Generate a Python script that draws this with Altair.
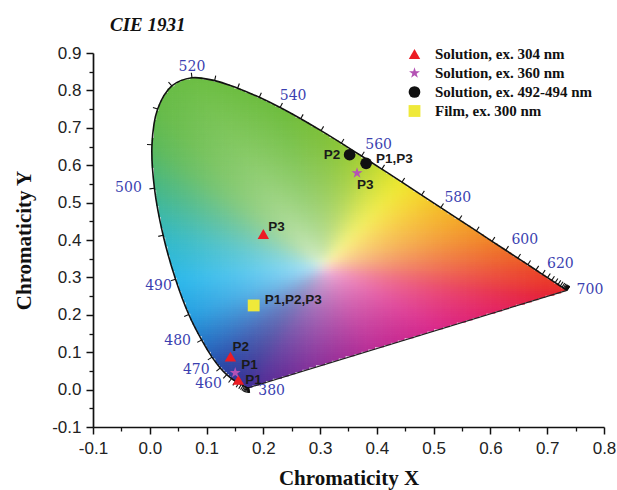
import numpy as np
import pandas as pd
import altair as alt

# ---------------- data ----------------
# CIE 1931 spectral locus, 5 nm steps
WL = list(range(380, 705, 5))
LOCUS_X = [0.1741, 0.1740, 0.1738, 0.1736, 0.1733, 0.1730, 0.1726, 0.1721, 0.1714, 0.1703,
           0.1689, 0.1669, 0.1644, 0.1611, 0.1566, 0.1510, 0.1440, 0.1355, 0.1241, 0.1096,
           0.0913, 0.0687, 0.0454, 0.0235, 0.0082, 0.0039, 0.0139, 0.0389, 0.0743, 0.1142,
           0.1547, 0.1929, 0.2296, 0.2658, 0.3016, 0.3373, 0.3731, 0.4087, 0.4441, 0.4788,
           0.5125, 0.5448, 0.5752, 0.6029, 0.6270, 0.6482, 0.6658, 0.6801, 0.6915, 0.7006,
           0.7079, 0.7140, 0.7190, 0.7230, 0.7260, 0.7283, 0.7300, 0.7311, 0.7320, 0.7327,
           0.7334, 0.7340, 0.7344, 0.7346, 0.7347]
LOCUS_Y = [0.0050, 0.0050, 0.0049, 0.0049, 0.0048, 0.0048, 0.0048, 0.0048, 0.0051, 0.0058,
           0.0069, 0.0086, 0.0109, 0.0138, 0.0177, 0.0227, 0.0297, 0.0399, 0.0578, 0.0868,
           0.1327, 0.2007, 0.2950, 0.4127, 0.5384, 0.6548, 0.7502, 0.8120, 0.8338, 0.8262,
           0.8059, 0.7816, 0.7543, 0.7243, 0.6923, 0.6589, 0.6245, 0.5896, 0.5547, 0.5202,
           0.4866, 0.4544, 0.4242, 0.3965, 0.3725, 0.3514, 0.3340, 0.3197, 0.3083, 0.2993,
           0.2920, 0.2859, 0.2809, 0.2770, 0.2740, 0.2717, 0.2700, 0.2689, 0.2680, 0.2673,
           0.2666, 0.2660, 0.2656, 0.2654, 0.2653]

# colours
EDGE_WL = [380, 450, 460, 470, 475, 480, 485, 490, 495, 500, 505, 510, 520, 540, 550, 555,
           560, 565, 570, 575, 580, 590, 600, 620, 700]
EDGE_RGB = [(70, 45, 150), (55, 50, 150), (48, 58, 155), (42, 70, 165), (40, 90, 180),
            (38, 120, 200), (40, 160, 225), (45, 185, 235), (52, 185, 195), (70, 183, 135),
            (92, 185, 90), (102, 187, 72), (108, 190, 68), (110, 189, 62), (125, 192, 58),
            (140, 198, 55), (165, 207, 52), (205, 222, 50), (238, 232, 48), (245, 212, 45),
            (245, 188, 42), (242, 148, 40), (238, 110, 40), (234, 62, 42), (230, 35, 42)]
PURPLE_F = [0.0, 0.2, 0.4, 0.6, 0.8, 1.0]          # from the 700 end to the 380 end
PURPLE_RGB = [(230, 35, 42), (228, 35, 95), (218, 40, 138), (190, 45, 150),
              (135, 50, 155), (70, 45, 150)]
WHITE_XY = (0.305, 0.33)

LABEL_WL = [380, 460, 470, 480, 490, 500, 520, 540, 560, 580, 600, 620, 700]
LABEL_DX = [23, -23, -24, -24, -17, -26, 0, 13, 17, 17, 19, 18, 23]
LABEL_DY = [3, 6, 2, 1, 7, 0, -11, -11, -11, -10, -10, -10, 0]

SERIES = ["Solution, ex. 304 nm", "Solution, ex. 360 nm",
          "Solution, ex. 492-494 nm", "Film, ex. 300 nm"]
S304_X = [0.156, 0.142, 0.200]
S304_Y = [0.026, 0.088, 0.416]
S304_LAB = ["P1", "P2", "P3"]
S360_X = [0.1505, 0.365]
S360_Y = [0.045, 0.579]
S360_LAB = ["P1", "P3"]
S492_X = [0.352, 0.381]
S492_Y = [0.628, 0.605]
S492_LAB = ["P2", "P1,P3"]
FILM_X = [0.183]
FILM_Y = [0.225]
FILM_LAB = ["P1,P2,P3"]

X_MAJOR = [-0.1, 0.0, 0.1, 0.2, 0.3, 0.4, 0.5, 0.6, 0.7, 0.8]
Y_MAJOR = [-0.1, 0.0, 0.1, 0.2, 0.3, 0.4, 0.5, 0.6, 0.7, 0.8, 0.9]
X_MINOR = [-0.05, 0.05, 0.15, 0.25, 0.35, 0.45, 0.55, 0.65, 0.75]
Y_MINOR = [-0.05, 0.05, 0.15, 0.25, 0.35, 0.45, 0.55, 0.65, 0.75, 0.85]

# ---------------- layout / style ----------------
W, H = 511, 374
XD, YD = [-0.1, 0.8], [-0.1, 0.9]
SX = W / (XD[1] - XD[0])
SY = H / (YD[1] - YD[0])

# label offsets (pixels) for the point labels, text left-aligned
PT_DX = {"304": [7, 2, 5], "360": [6, 0], "492": [-26, 10], "film": [11]}
PT_DY = {"304": [0, -10, -7], "360": [-8, 12], "492": [0, -4], "film": [-5]}


# ---------------- gamut fill ----------------
def catmull_rom_path(px, py, alpha=0.5, nseg=12):
    """Same curve that Vega draws for interpolate='catmull-rom' (used only for the fill mask)."""
    pts = np.stack([px, py], axis=1)
    n = len(pts)
    out, par = [], []
    for i in range(n - 1):
        p0 = pts[i - 1] if i > 0 else pts[i]
        p1, p2 = pts[i], pts[i + 1]
        p3 = pts[i + 2] if i + 2 < n else pts[i + 1]
        l01a = np.linalg.norm(p1 - p0) ** alpha
        l12a = np.linalg.norm(p2 - p1) ** alpha
        l23a = np.linalg.norm(p3 - p2) ** alpha
        c1, c2 = p1.copy(), p2.copy()
        if l01a > 1e-12:
            aa = 2 * l01a ** 2 + 3 * l01a * l12a + l12a ** 2
            nn = 3 * l01a * (l01a + l12a)
            c1 = (p1 * aa - p0 * l12a ** 2 + p2 * l01a ** 2) / nn
        if l23a > 1e-12:
            bb = 2 * l23a ** 2 + 3 * l23a * l12a + l12a ** 2
            mm = 3 * l23a * (l23a + l12a)
            c2 = (p2 * bb + p1 * l23a ** 2 - p3 * l12a ** 2) / mm
        for s in np.linspace(0, 1, nseg, endpoint=False):
            out.append((1 - s) ** 3 * p1 + 3 * (1 - s) ** 2 * s * c1 + 3 * (1 - s) * s ** 2 * c2
                       + s ** 3 * p2)
            par.append(i + s)
    out.append(pts[-1])
    par.append(n - 1)
    return np.array(out), np.array(par)


lx = np.array(LOCUS_X)
ly = np.array(LOCUS_Y)
dense, par = catmull_rom_path(lx * SX, ly * SY)
dwl = WL[0] + 5 * par
erg = np.array(EDGE_RGB, float)
loc_rgb = np.stack([np.interp(dwl, EDGE_WL, erg[:, k]) for k in range(3)], axis=1)
f = np.linspace(0, 1, 62)[1:-1]
px_ = (lx[-1] + (lx[0] - lx[-1]) * f) * SX
py_ = (ly[-1] + (ly[0] - ly[-1]) * f) * SY
prg = np.array(PURPLE_RGB, float)
p_rgb = np.stack([np.interp(f, PURPLE_F, prg[:, k]) for k in range(3)], axis=1)
bxp = np.concatenate([dense[:, 0], px_])
byp = np.concatenate([dense[:, 1], py_])
brgb = np.concatenate([loc_rgb, p_rgb])
wxp, wyp = WHITE_XY[0] * SX, WHITE_XY[1] * SY
b_ang = np.arctan2(byp - wyp, bxp - wxp)
b_rad = np.hypot(bxp - wxp, byp - wyp)

dxg, dyg = 0.004, 0.006
gx = np.arange(0.0, 0.74, dxg) + dxg / 2
gy = np.arange(0.0, 0.84, dyg) + dyg / 2
NGX, NGY = len(gx), len(gy)
GX, GY = np.meshgrid(gx, gy)
a = np.arctan2(GY * SY - wyp, GX * SX - wxp)
r = np.hypot(GX * SX - wxp, GY * SY - wyp)
TP = 2 * np.pi
R = np.interp(a, b_ang, b_rad, period=TP)
inside = r <= R - 0.9
t = np.clip(r / R, 0, 1) ** 0.4
edge = np.stack([np.interp(a, b_ang, brgb[:, k], period=TP) for k in range(3)], axis=-1)
col = 255 + (edge - 255) * t[..., None]
# soft blending, as in the picture
k = 3
padc = np.pad(col, ((k, k), (k, k), (0, 0)), mode="edge")
acc = np.zeros_like(col)
for i in range(2 * k + 1):
    for j in range(2 * k + 1):
        acc += padc[i:i + NGY, j:j + NGX]
col = acc / (2 * k + 1) ** 2
col = np.clip(np.round(col), 0, 255).astype(int)
hexs = ["#%02x%02x%02x" % tuple(c) for c in col[inside]]
gamut = pd.DataFrame({"x": np.round(GX[inside], 4), "y": np.round(GY[inside], 4), "c": hexs})

# outline
locus_df = pd.DataFrame({"x": LOCUS_X, "y": LOCUS_Y, "o": list(range(len(LOCUS_X)))})
purple_df = pd.DataFrame({"x": [LOCUS_X[-1], LOCUS_X[0]], "y": [LOCUS_Y[-1], LOCUS_Y[0]]})

# ticks along the locus
P = np.stack([lx * SX, ly * SY], axis=1)
T = np.gradient(P, axis=0)
T = T / (np.linalg.norm(T, axis=1, keepdims=True) + 1e-9)
N = np.stack([-T[:, 1], T[:, 0]], axis=1)
TL = 5.0
ticks = pd.DataFrame({"x": lx, "y": ly,
                      "x2": lx + N[:, 0] * TL / SX, "y2": ly + N[:, 1] * TL / SY})

# wavelength labels
idx = [WL.index(w) for w in LABEL_WL]
wlab = pd.DataFrame({
    "x": [LOCUS_X[i] + dx / SX for i, dx in zip(idx, LABEL_DX)],
    "y": [LOCUS_Y[i] - dy / SY for i, dy in zip(idx, LABEL_DY)],
    "t": [str(w) for w in LABEL_WL]})

# points
rows = []
for key, name, xs_, ys_, labs in [("304", SERIES[0], S304_X, S304_Y, S304_LAB),
                                  ("360", SERIES[1], S360_X, S360_Y, S360_LAB),
                                  ("492", SERIES[2], S492_X, S492_Y, S492_LAB),
                                  ("film", SERIES[3], FILM_X, FILM_Y, FILM_LAB)]:
    for i in range(len(xs_)):
        rows.append({"x": xs_[i], "y": ys_[i], "series": name, "lab": labs[i],
                     "lx": xs_[i] + PT_DX[key][i] / SX, "ly": ys_[i] - PT_DY[key][i] / SY})
pts = pd.DataFrame(rows)

# ---------------- chart ----------------
xs = alt.Scale(domain=XD, nice=False, zero=False)
ys = alt.Scale(domain=YD, nice=False, zero=False)
LBL = "datum.value < 0 ? '-' + format(-datum.value, '.1f') : format(datum.value, '.1f')"

ax_common = dict(labelExpr=LBL, tickSize=7, tickWidth=1.5, tickColor="#111", domainColor="#111",
                 domainWidth=1.7, labelFont="Liberation Sans", labelFontSize=17, labelColor="#222",
                 labelFlush=False, grid=False, titleFont="Liberation Serif", titleFontSize=21,
                 titleFontWeight="bold", titleColor="#111")

base_gamut = alt.Chart(gamut).mark_square(size=9, opacity=1, strokeWidth=0).encode(
    x=alt.X("x:Q", scale=xs, axis=alt.Axis(orient="bottom", values=X_MAJOR, title="Chromaticity X",
                                           labelPadding=6, titlePadding=11, **ax_common)),
    y=alt.Y("y:Q", scale=ys, axis=alt.Axis(orient="left", values=Y_MAJOR, title="Chromaticity Y",
                                           labelPadding=5, titlePadding=17, **ax_common)),
    color=alt.Color("c:N", scale=None),
)

minor = alt.Chart(pd.DataFrame({"x": [0.0], "y": [0.0]})).mark_point(opacity=0).encode(
    x=alt.X("x:Q", scale=xs, axis=alt.Axis(orient="bottom", values=X_MINOR, labels=False, title=None,
                                           domain=False, tickSize=4, tickWidth=1.3, tickColor="#111",
                                           grid=False)),
    y=alt.Y("y:Q", scale=ys, axis=alt.Axis(orient="left", values=Y_MINOR, labels=False, title=None,
                                           domain=False, tickSize=4, tickWidth=1.3, tickColor="#111",
                                           grid=False)),
)

locus_line = alt.Chart(locus_df).mark_line(color="#111", strokeWidth=1.6,
                                           interpolate="catmull-rom").encode(
    x=alt.X("x:Q", scale=xs, axis=None), y=alt.Y("y:Q", scale=ys, axis=None), order="o:Q")
purple_line = alt.Chart(purple_df).mark_line(color="#222", strokeWidth=1.2).encode(
    x=alt.X("x:Q", scale=xs, axis=None), y=alt.Y("y:Q", scale=ys, axis=None))

tick_rules = alt.Chart(ticks).mark_rule(color="#111", strokeWidth=1.1).encode(
    x=alt.X("x:Q", scale=xs, axis=None), y=alt.Y("y:Q", scale=ys, axis=None), x2="x2:Q", y2="y2:Q")

wl_text = alt.Chart(wlab).mark_text(font="DejaVu Serif", fontSize=14, color="#3b3fb0",
                                    align="center", baseline="middle").encode(
    x=alt.X("x:Q", scale=xs, axis=None), y=alt.Y("y:Q", scale=ys, axis=None), text="t:N")

STAR = ("M0,-1L0.2245,-0.309L0.9511,-0.309L0.3633,0.118L0.5878,0.809L0,0.382L-0.5878,0.809"
        "L-0.3633,0.118L-0.9511,-0.309L-0.2245,-0.309Z")
COLS = ["#ec1c24", "#b452b4", "#111111", "#efe93a"]
SHAPES = ["triangle-up", STAR, "circle", "square"]
SIZES = [130, 140, 72, 58]

leg = alt.Legend(title=None, orient="none", legendX=314, legendY=-6.5, labelFont="Liberation Serif",
                 labelFontWeight="bold", labelFontSize=15, labelColor="#111", symbolSize=100,
                 rowPadding=3, labelOffset=13, symbolStrokeWidth=0, padding=0)

points = alt.Chart(pts).mark_point(filled=True, opacity=1, strokeWidth=0).encode(
    x=alt.X("x:Q", scale=xs, axis=None), y=alt.Y("y:Q", scale=ys, axis=None),
    color=alt.Color("series:N", scale=alt.Scale(domain=SERIES, range=COLS), legend=leg),
    shape=alt.Shape("series:N", scale=alt.Scale(domain=SERIES, range=SHAPES), legend=leg),
    size=alt.Size("series:N", scale=alt.Scale(domain=SERIES, range=SIZES), legend=None),
)

pt_text = alt.Chart(pts).mark_text(font="Liberation Sans", fontWeight="bold", fontSize=13.5,
                                   color="#1a1a1a", align="left", baseline="middle").encode(
    x=alt.X("lx:Q", scale=xs, axis=None), y=alt.Y("ly:Q", scale=ys, axis=None), text="lab:N")

chart = alt.layer(base_gamut, minor, locus_line, purple_line, tick_rules, wl_text, points,
                  pt_text).resolve_axis(
    x="independent", y="independent"
).properties(
    width=W, height=H,
    autosize=alt.AutoSizeParams(type="none"),
    padding={"left": 93, "top": 53, "right": 13, "bottom": 63},
    title=alt.TitleParams("CIE 1931", anchor="start", frame="group", dx=17, dy=25, offset=19,
                          baseline="alphabetic", font="Liberation Serif", fontSize=19,
                          fontStyle="italic", fontWeight="bold", color="#111"),
).configure_view(stroke=None)

chart.save("out.html", embed_options={"renderer": "svg", "actions": False})
